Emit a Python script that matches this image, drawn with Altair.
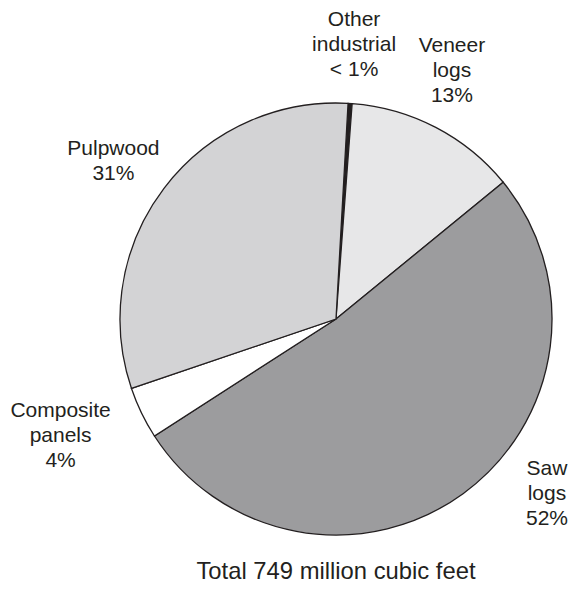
import altair as alt
import pandas as pd

categories = ["Other industrial", "Veneer logs", "Saw logs", "Composite panels", "Pulpwood"]
labels = ["Other\nindustrial\n< 1%", "Veneer\nlogs\n13%", "Saw\nlogs\n52%", "Composite\npanels\n4%", "Pulpwood\n31%"]
shares = [0.3, 12.9, 51.8, 3.9, 31.1]
colors = ["#231f20", "#e7e7e8", "#9c9c9e", "#ffffff", "#d3d3d5"]
total_text = ["Total 749 million cubic feet"]

df = pd.DataFrame({
    "category": categories,
    "label": labels,
    "share": shares,
    "order": list(range(len(categories))),
})

start = 0.0559  # rotation so the first slice starts just right of 12 o'clock
theta_scale = alt.Scale(range=[start, start + 6.283185])

base = alt.Chart(df).encode(
    theta=alt.Theta("share:Q", stack=True, scale=theta_scale),
    order=alt.Order("order:Q"),
)

pie = base.mark_arc(outerRadius=216, stroke="#231f20", strokeWidth=1.3).encode(
    color=alt.Color("category:N", scale=alt.Scale(domain=categories, range=colors), legend=None)
)

offsets = {
    "Other industrial": (0, -23),
    "Veneer logs": (-12, -27),
    "Saw logs": (48, -74),
    "Composite panels": (-26, -28),
    "Pulpwood": (-2, -2),
}

layers = [pie]
for cat, (dx, dy) in offsets.items():
    layers.append(
        base.mark_text(
            radius=277, dx=dx, dy=dy, lineBreak="\n", fontSize=21, lineHeight=25,
            font="Liberation Sans", color="#231f20", align="center", baseline="middle",
        ).encode(
            text=alt.condition(alt.datum.category == cat, "label:N", alt.value(""))
        )
    )

total = alt.Chart(pd.DataFrame({"t": total_text})).mark_text(
    font="Liberation Sans", fontSize=23.8, color="#231f20", align="center", baseline="alphabetic",
).encode(text="t:N", x=alt.value(200), y=alt.value(460))
layers.append(total)

chart = alt.layer(*layers).properties(
    width=400,
    height=400,
    padding={"left": 128, "top": 111, "right": 32, "bottom": 63},
    autosize=alt.AutoSizeParams(type="none"),
).configure_view(stroke=None)

chart.save("out.html", embed_options={"renderer": "svg", "actions": False})
